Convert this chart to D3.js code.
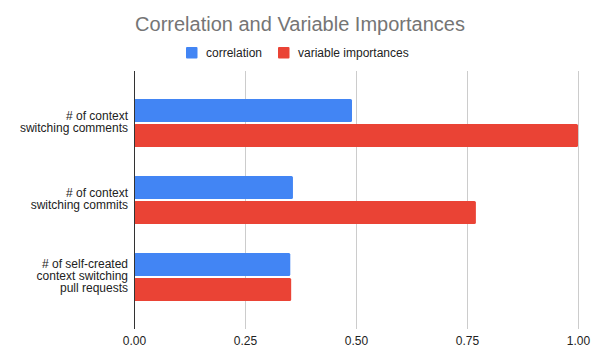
<!DOCTYPE html>
<html>
<head>
<meta charset="utf-8">
<script src="https://cdn.jsdelivr.net/npm/d3@7"></script>
<style>
  html, body { margin: 0; padding: 0; background: #fff; }
  svg { display: block; font-family: "Liberation Sans", Arial, sans-serif; }
  svg text { font-family: "Liberation Sans", Arial, sans-serif; }
</style>
</head>
<body>
<svg id="chart" width="595" height="361"></svg>
<script>
const categories = [
  ["# of context", "switching comments"],
  ["# of context", "switching commits"],
  ["# of self-created", "context switching", "pull requests"]
];
const seriesNames = ["correlation", "variable importances"];
const correlation = [0.491, 0.358, 0.352];
const variableImportances = [1.0, 0.770, 0.354];
const tickValues = [0, 0.25, 0.5, 0.75, 1.0];
const colors = ["#4285f4", "#ea4335"];

const seriesValues = [correlation, variableImportances];
const svg = d3.select("#chart");

const x = d3.scaleLinear().domain([0, 1]).range([134, 578]);
const catIdx = categories.map((d, i) => i);
const y = d3.scaleBand().domain(catIdx).range([71, 329]).paddingInner(0.377).paddingOuter(0.364);
const ySub = d3.scaleBand().domain([0, 1]).range([0, y.bandwidth()]).paddingInner(0.08);

// gridlines
svg.append("g").selectAll("line").data(tickValues.filter(v => v > 0)).join("line")
  .attr("x1", d => x(d) + 0.5).attr("x2", d => x(d) + 0.5)
  .attr("y1", 71).attr("y2", 329)
  .attr("stroke", "#cccccc").attr("stroke-width", 1);

// bars
const groups = svg.append("g").selectAll("g").data(catIdx).join("g")
  .attr("transform", i => `translate(0,${y(i)})`);
groups.selectAll("rect").data(i => seriesValues.map((s, k) => ({k, v: s[i]}))).join("rect")
  .attr("x", x(0))
  .attr("y", d => ySub(d.k))
  .attr("width", d => x(d.v) - x(0))
  .attr("height", ySub.bandwidth())
  .attr("rx", 1.5)
  .attr("fill", d => colors[d.k]);

// baseline axis
svg.append("line").attr("x1", x(0) + 0.5).attr("x2", x(0) + 0.5).attr("y1", 71).attr("y2", 329)
  .attr("stroke", "#333333").attr("stroke-width", 1);

// x axis labels
const xAxis = d3.axisBottom(x).tickValues(tickValues).tickFormat(d3.format(".2f")).tickSize(0).tickPadding(0);
const gx = svg.append("g").attr("transform", "translate(0,332)").call(xAxis);
gx.select(".domain").remove();
gx.attr("font-family", null).attr("font-size", null);
gx.selectAll("text").attr("font-size", 12).attr("fill", "#222").attr("dy", null).attr("y", 13);

// y labels
const ylab = svg.append("g").selectAll("text").data(catIdx).join("text")
  .attr("text-anchor", "end")
  .attr("font-size", 12)
  .attr("fill", "#222");
ylab.each(function(i) {
  const lines = categories[i];
  const cy = y(i) + y.bandwidth() / 2;
  d3.select(this).selectAll("tspan").data(lines).join("tspan")
    .attr("x", 128)
    .attr("y", (l, j) => cy + 3 + (j - (lines.length - 1) / 2) * 12.4)
    .text(l => l);
});

// title
svg.append("text").attr("x", 300).attr("y", 31).attr("text-anchor", "middle")
  .attr("font-size", 20).attr("fill", "#757575").text("Correlation and Variable Importances");

// legend
const legendX = [186, 278];
const leg = svg.append("g").selectAll("g").data(seriesNames).join("g")
  .attr("transform", (d, i) => `translate(${legendX[i]},47)`);
leg.append("rect").attr("width", 11.5).attr("height", 11.5).attr("rx", 1).attr("fill", (d, i) => colors[i]);
leg.append("text").attr("x", 20).attr("y", 10).attr("font-size", 12).attr("fill", "#222").text(d => d);
</script>
</body>
</html>
